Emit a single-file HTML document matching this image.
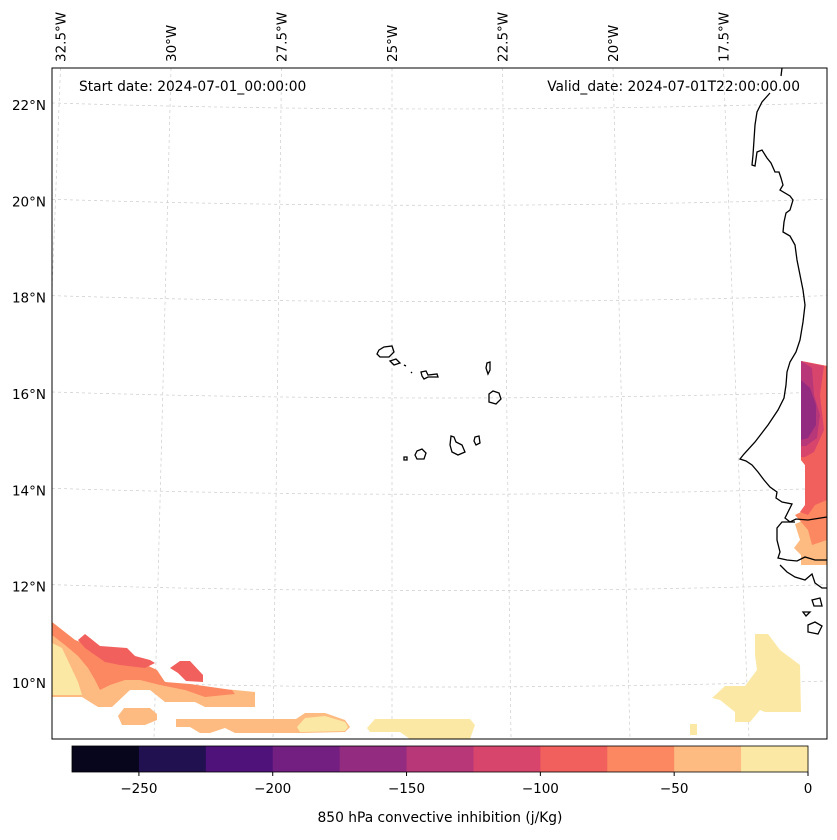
<!DOCTYPE html>
<html><head><meta charset="utf-8"><style>
body{margin:0;background:#fff;font-family:"DejaVu Sans",sans-serif}
svg text{font-family:"DejaVu Sans",sans-serif;fill:#000}
</style></head><body>
<svg width="837" height="836" viewBox="0 0 837 836">
<defs><clipPath id="mapclip"><rect x="52" y="68" width="775" height="671"/></clipPath></defs>
<g id="grid" stroke="#ccc" stroke-width="0.7" stroke-dasharray="3,3" fill="none" clip-path="url(#mapclip)"></g>
<g id="fields" clip-path="url(#mapclip)"></g>
<g fill="none" stroke="#000" stroke-width="1.3" clip-path="url(#mapclip)">
<path d="M782,68 L781,76 M770,93 L762,102 L757,112 L755,125 L754,140 L753,155 L752,165 L755,166 L757,152 L762,150 L767,158 L771,163 L775,172 L779,172 L781,178 L783,185 L780,190 L790,196 L793,200 L790,210 L786,213 L784,222 L783,232 L790,236 L795,245 L797,260 L800,275 L803,290 L805,305 L803,322 L800,340 L796,352 L790,362 L787,372 L786,385 L784,398 L778,410 L768,425 L755,442 L744,454 L740,459 L746,461 L752,465 L758,472 L764,480 L770,487 L777,492 L776,498 L782,502 L792,504 L788,512 L785,518 L790,522 L796,519 L808,520 L827,517"/>
<path d="M795,522 L782,522 L777,528 L777,540 L780,552 L778,558 L787,560 L797,561 L805,557 L815,560 L827,560"/>
<path d="M780,565 L787,572 L795,577 L805,580 L812,574 L815,583 L822,588 L827,588"/>
<path d="M812,600 L820,598 L822,606 L814,606 Z M803,612 L810,612 L806,616 Z M808,625 L815,622 L822,626 L818,634 L808,632 Z"/>
</g>
<g fill="none" stroke="#000" stroke-width="1.3">
<path d="M379,350 L384,347 L392,346 L394,352 L389,357 L380,357 L377,354 Z"/>
<path d="M390,361 L396,359 L400,363 L394,365 Z"/>
<path d="M404,365 L406,366 M411,372 L412,373"/>
<path d="M421,372 L426,371 L428,375 L437,374 L438,377 L428,377 L424,379 L422,376 Z"/>
<path d="M487,363 L490,362 L490,370 L488,374 L486,368 Z"/>
<path d="M489,394 L493,391 L499,393 L501,399 L496,404 L489,402 Z"/>
<path d="M451,436 L454,437 L456,442 L462,445 L465,452 L458,455 L452,452 L450,445 Z"/>
<path d="M475,437 L479,436 L480,443 L476,445 L474,441 Z"/>
<path d="M417,451 L422,449 L426,453 L424,459 L417,459 L415,455 Z"/>
<path d="M404,457 L407,457 L407,460 L404,460 Z"/>
</g>
<rect x="52" y="68" width="775" height="671" fill="none" stroke="#000" stroke-width="1"/>
<g id="latlabels" font-size="13.5" text-anchor="end"></g>
<g id="lonlabels" font-size="13.5"></g>
<text x="79" y="91" font-size="13.8">Start date: 2024-07-01_00:00:00</text>
<text x="800" y="91" font-size="13.8" text-anchor="end">Valid_date: 2024-07-01T22:00:00.00</text>
<g id="cbar"></g>
<text x="440" y="822" font-size="13.8" text-anchor="middle">850 hPa convective inhibition (j/Kg)</text>
</svg>
<script>
const levels=[-275,-250,-225,-200,-175,-150,-125,-100,-75,-50,-25,0];
const colors=['#07061c','#221150','#4f127b','#721f81','#932b80','#b73779','#d8456c','#f1605d','#fb8861','#febb81','#fce8a5'];
const cbTicks=[-250,-200,-150,-100,-50,0];
const latTicks=[22,20,18,16,14,12,10];
const lonTicks=[32.5,30,27.5,25,22.5,20,17.5];
// contour regions: [level band index, polygon]
const regions=[
[9,[[52,622],[75,640],[100,650],[140,665],[160,680],[175,685],[205,688],[235,690],[255,692],[255,707],[205,707],[195,702],[165,702],[150,690],[130,690],[112,707],[98,707],[82,697],[52,697]]],
[10,[[52,643],[62,648],[70,665],[78,682],[82,695],[52,695]]],
[9,[[118,716],[124,708],[150,708],[157,714],[157,720],[145,725],[122,725]]],
[9,[[176,719],[296,719],[305,713],[325,713],[345,720],[350,727],[345,732],[300,733],[235,733],[225,728],[210,733],[200,733],[190,727],[176,727]]],
[10,[[297,727],[305,718],[325,716],[345,722],[348,727],[345,731],[300,732]]],
[10,[[367,728],[375,719],[470,719],[475,725],[470,739],[410,739],[400,732],[370,732]]],
[8,[[52,622],[75,640],[100,650],[127,650],[140,662],[157,670],[165,682],[190,684],[232,690],[235,694],[205,697],[185,690],[160,685],[140,680],[125,680],[110,685],[100,690],[95,680],[88,668],[78,656],[65,645],[52,635]]],
[7,[[78,640],[85,634],[100,646],[127,648],[135,656],[150,660],[155,663],[145,668],[120,665],[105,662],[95,655],[85,648]]],
[7,[[170,668],[180,661],[190,661],[203,675],[203,682],[186,681],[178,673]]],
[10,[[755,634],[768,634],[780,650],[800,665],[801,712],[765,712],[760,710],[750,722],[735,722],[735,712],[720,700],[712,698],[725,686],[745,686],[757,670],[755,655]]],
[10,[[690,724],[697,724],[697,735],[690,735]]],
[9,[[801,361],[827,366],[827,565],[801,565],[801,555],[794,548],[800,540],[795,524],[805,520],[805,465],[801,460]]],
[8,[[801,361],[827,366],[827,540],[812,545],[808,530],[795,515],[805,510],[805,465],[801,460]]],
[7,[[801,361],[827,366],[827,500],[815,505],[808,515],[800,512],[805,505],[805,465],[801,460]]],
[6,[[801,361],[824,366],[820,395],[824,430],[814,452],[805,457],[801,457]]],
[5,[[801,361],[812,368],[814,395],[820,415],[817,438],[806,446],[801,446]]],
[4,[[801,380],[810,388],[816,405],[816,425],[808,438],[801,440]]]
];
const NS='http://www.w3.org/2000/svg';
function mk(t,a,p){const e=document.createElementNS(NS,t);for(const k in a)e.setAttribute(k,a[k]);p.appendChild(e);return e;}
function latY(l){return 683-(l-10)*48.17;}
function lonTopX(w){return 392-(w-25)*44.2;}
function lonBotX(w){return 392-(w-25)*47.6;}
const grid=document.getElementById('grid');
latTicks.forEach(l=>{const y=latY(l)+4;const d='M52,'+(y-6)+' Q440,'+(y+6)+' 827,'+(y-6);const p=mk('path',{d:d},grid);

});
[35,32.5,30,27.5,25,22.5,20,17.5,15].forEach(w=>{const p=mk('line',{x1:lonTopX(w),y1:68,x2:lonBotX(w),y2:739},grid);

});
const fields=document.getElementById('fields');
regions.forEach(r=>{const p=mk('polygon',{points:r[1].map(q=>q.join(',')).join(' '),fill:colors[r[0]]},fields);

});
const ll=document.getElementById('latlabels');
latTicks.forEach(l=>{const t=mk('text',{x:46,y:latY(l)+5},ll);t.textContent=l+'°N';

});
const lo=document.getElementById('lonlabels');
lonTicks.forEach(w=>{const x=lonTopX(w)+5;const t=mk('text',{x:x,y:62,transform:'rotate(-90 '+x+' 62)'},lo);t.textContent=w+'°W';

});
const cb=document.getElementById('cbar');
const cx0=72,cx1=808;function cbX(v){return cx0+(v-levels[0])/(levels[levels.length-1]-levels[0])*(cx1-cx0);}
colors.forEach((c,i)=>{const r=mk('rect',{x:cbX(levels[i]),y:746,width:cbX(levels[i+1])-cbX(levels[i])+0.5,height:26,fill:c},cb);

});
mk('rect',{x:cx0,y:746,width:cx1-cx0,height:26,fill:'none',stroke:'#000','stroke-width':0.8},cb);
cbTicks.forEach(v=>{mk('line',{x1:cbX(v),y1:772,x2:cbX(v),y2:776,stroke:'#000'},cb);
const t=mk('text',{x:cbX(v),y:793,'font-size':13.5,'text-anchor':'middle'},cb);t.textContent=v<0?'\u2212'+(-v):v;

});
</script>
</body></html>
